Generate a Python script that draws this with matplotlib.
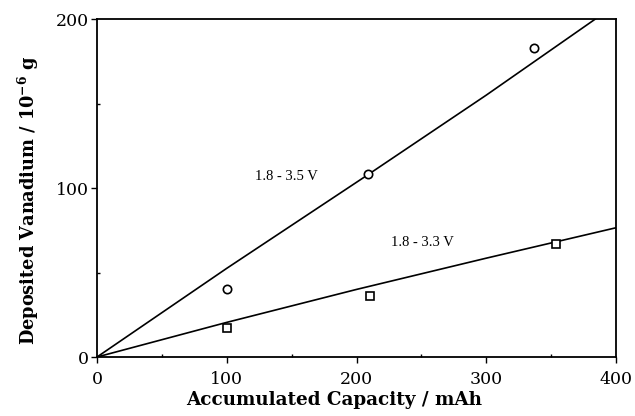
import numpy as np
import matplotlib
matplotlib.use("Agg")
import matplotlib.pyplot as plt
from matplotlib.ticker import MultipleLocator

# Dados
cap_35 = [100, 209, 337]
dep_35 = [40, 108, 183]
cap_33 = [100, 210, 354]
dep_33 = [17, 36, 67]

# Curvas ajustadas
fit_x_35 = [0, 100, 209, 300, 384]
fit_y_35 = [0, 52.5, 108, 155, 200]
fit_x_33 = [0, 100, 200, 300, 400]
fit_y_33 = [0, 20.5, 40, 58.5, 76.5]

plt.rcParams['mathtext.fontset'] = 'dejavuserif'

fig = plt.figure(figsize=(6.35, 4.16), dpi=100)
ax = fig.add_axes([0.1528, 0.1418, 0.8175, 0.8125])

ax.plot(fit_x_35, fit_y_35, color='black', lw=1.2)
ax.plot(fit_x_33, fit_y_33, color='black', lw=1.2)
ax.plot(cap_35, dep_35, 'o', mfc='white', mec='black', ms=6, mew=1.2)
ax.plot(cap_33, dep_33, 's', mfc='white', mec='black', ms=6, mew=1.2)

ax.text(146, 107, '1.8 - 3.5 V', family='Liberation Serif', fontsize=10.5, ha='center', va='center')
ax.text(251, 68, '1.8 - 3.3 V', family='Liberation Serif', fontsize=10.5, ha='center', va='center')

ax.set_xlim(0, 400)
ax.set_ylim(0, 200)
ax.xaxis.set_major_locator(MultipleLocator(100))
ax.yaxis.set_major_locator(MultipleLocator(100))
ax.xaxis.set_minor_locator(MultipleLocator(50))
ax.yaxis.set_minor_locator(MultipleLocator(50))
ax.tick_params(which='major', direction='out', length=4, width=1, labelsize=12.5)
ax.tick_params(axis='x', which='major', pad=6)
ax.tick_params(axis='y', which='major', pad=2)
ax.tick_params(which='minor', direction='in', length=2, width=1)
for lab in ax.get_xticklabels() + ax.get_yticklabels():
    lab.set_family('DejaVu Serif')
for s in ax.spines.values():
    s.set_linewidth(1.3)

ax.set_xlabel('Accumulated Capacity / mAh', family='DejaVu Serif', fontweight='bold', fontsize=13.2)
ax.set_ylabel(r'Deposited Vanadium / 10$^{\mathbf{-6}}$ g', family='DejaVu Serif', fontweight='bold', fontsize=12.8)
ax.xaxis.set_label_coords(0.4576, -0.1)
ax.yaxis.set_label_coords(-0.108, 0.4645)

plt.savefig('out.png', dpi=100)
